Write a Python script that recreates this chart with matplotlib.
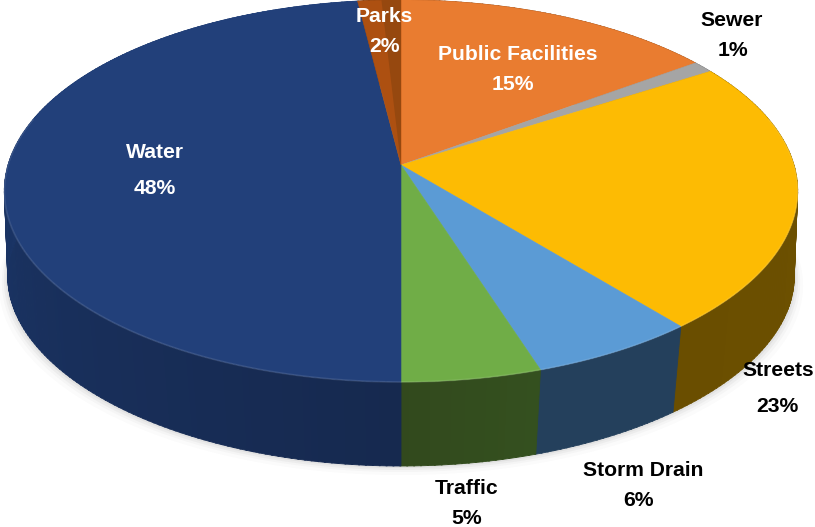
import numpy as np
import matplotlib
matplotlib.use('Agg')
import matplotlib.pyplot as plt
from matplotlib.colors import to_rgb

labels = ['Public Facilities', 'Sewer', 'Streets', 'Storm Drain', 'Traffic', 'Water', 'Parks']
values = [15, 1, 23, 6, 5, 48, 2]
top_colors = ['#e97c30', '#a5a5a5', '#fdbb03', '#5b9bd5', '#70ad47', '#22407a', '#ad5011']
side_start = ['#8a4a1c', '#626262', '#6e5200', '#24405c', '#34501f', '#16294f', '#63300c']
side_end = ['#8a4a1c', '#626262', '#6a4e00', '#24405c', '#32491d', '#1e3e78', '#63300c']

plt.rcParams['font.family'] = ['Liberation Sans', 'DejaVu Sans']

# the pie is tilted, so a point on the unit circle goes through a small perspective map
CX, CY = 401, 165
K = 0.136
A = 187.5
B = 393
DROP = 84
FS = 15.2


def project(ang):
    x, y = np.sin(ang), np.cos(ang)
    d = 1 + K * y
    return CX + B * x / d, CY - A * y / d


def project_low(ang):
    px, py = project(ang)
    y = np.cos(ang)
    # lower rim is a bit narrower at the front and drops a bit more at the sides
    scale = 0.995 + 0.03 * np.minimum(y, 0)
    return CX + (px - CX) * scale, py + DROP + 8 * (1 - np.abs(y))


fig = plt.figure(figsize=(8.15, 5.27), dpi=100)
ax = fig.add_axes([0, 0, 1, 1])
ax.set_xlim(0, 815)
ax.set_ylim(527, 0)
ax.axis('off')

edges = np.cumsum([0] + values) / sum(values) * 2 * np.pi

# soft shadow under the disc
full = np.linspace(0, 2 * np.pi, 300)
lx, ly = project_low(full)
for grow, alpha in zip([9, 6, 4, 2], [0.025, 0.035, 0.05, 0.07]):
    ax.fill(CX + (lx - CX) * (1 + grow / 400), ly + grow, color='#555555', alpha=alpha, lw=0, zorder=1)

# side wall, thin strips so the colour can drift round the rim
for i in range(len(values)):
    steps = max(int(values[i] * 4), 4)
    grid = np.linspace(edges[i], edges[i + 1], steps + 1)
    c0, c1 = np.array(to_rgb(side_start[i])), np.array(to_rgb(side_end[i]))
    for j in range(steps):
        a = np.linspace(grid[j], grid[j + 1] + 0.003, 4)
        tx, ty = project(a)
        bx, by = project_low(a)
        col = c0 + (c1 - c0) * j / steps
        ax.fill(np.r_[tx, bx[::-1]], np.r_[ty, by[::-1]], color=col, lw=0.6, zorder=2)

# top face
for i in range(len(values)):
    a = np.linspace(edges[i], edges[i + 1], 120)
    px, py = project(a)
    ax.fill(np.r_[CX, px], np.r_[CY, py], color=top_colors[i], lw=0.4, zorder=3)

# darker stripe on the right part of the Parks slice
a = np.linspace(edges[-1] - (edges[-1] - edges[-2]) * 0.45, edges[-1], 30)
px, py = project(a)
ax.fill(np.r_[CX, px], np.r_[CY, py], color='#96480f', lw=0, zorder=3.1)

# light rim on the front edge of the disc
a = np.linspace(np.pi * 0.42, np.pi * 1.58, 300)
px, py = project(a)
ax.plot(px, py, color='white', alpha=0.10, lw=1.3, zorder=4)

ax.text(155, 153, 'Water', color='white', fontsize=FS, fontweight='bold', ha='center', va='center', zorder=5)
ax.text(155, 188, '48%', color='white', fontsize=FS, fontweight='bold', ha='center', va='center', zorder=5)
ax.text(384, 16, 'Parks', color='white', fontsize=FS, fontweight='bold', ha='center', va='center', zorder=5)
ax.text(384, 46, '2%', color='white', fontsize=FS, fontweight='bold', ha='center', va='center', zorder=5)
ax.text(518, 54, 'Public Facilities', color='white', fontsize=FS, fontweight='bold', ha='center', va='center', zorder=5)
ax.text(513, 84, '15%', color='white', fontsize=FS, fontweight='bold', ha='center', va='center', zorder=5)
ax.text(732, 21, 'Sewer', color='black', fontsize=FS, fontweight='bold', ha='center', va='center', zorder=5)
ax.text(733, 51, '1%', color='black', fontsize=FS, fontweight='bold', ha='center', va='center', zorder=5)
ax.text(778, 370, 'Streets', color='black', fontsize=FS, fontweight='bold', ha='center', va='center', zorder=5)
ax.text(777, 406, '23%', color='black', fontsize=FS, fontweight='bold', ha='center', va='center', zorder=5)
ax.text(643, 470, 'Storm Drain', color='black', fontsize=FS, fontweight='bold', ha='center', va='center', zorder=5)
ax.text(638, 500, '6%', color='black', fontsize=FS, fontweight='bold', ha='center', va='center', zorder=5)
ax.text(467, 489, 'Traffic', color='black', fontsize=FS, fontweight='bold', ha='center', va='center', zorder=5)
ax.text(467, 518, '5%', color='black', fontsize=FS, fontweight='bold', ha='center', va='center', zorder=5)

plt.savefig('out.png', dpi=100)
